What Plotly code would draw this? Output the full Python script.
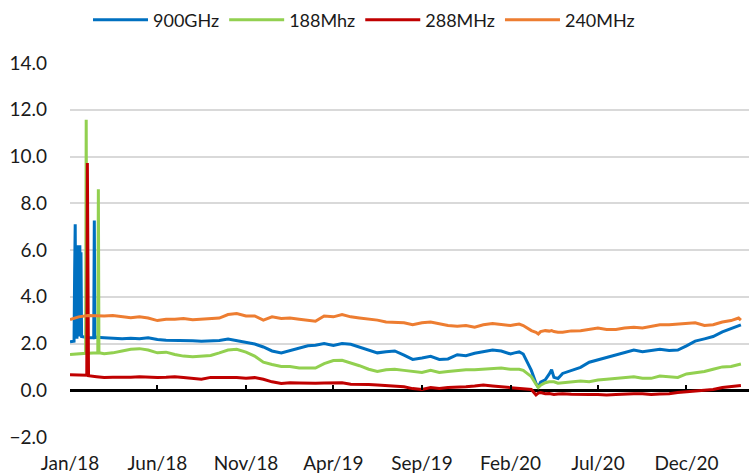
import pandas as pd
import plotly.graph_objects as go

# base dates (semi-monthly, weekly around Mar 2020)
dates = [
    "2018-01-01", "2018-01-16", "2018-02-01", "2018-02-16", "2018-03-01", "2018-03-16",
    "2018-04-01", "2018-04-16", "2018-05-01", "2018-05-16", "2018-06-01", "2018-06-16",
    "2018-07-01", "2018-07-16", "2018-08-01", "2018-08-16", "2018-09-01", "2018-09-16",
    "2018-10-01", "2018-10-16", "2018-11-01", "2018-11-16", "2018-12-01", "2018-12-16",
    "2019-01-01", "2019-01-16", "2019-02-01", "2019-02-16", "2019-03-01", "2019-03-16",
    "2019-04-01", "2019-04-16", "2019-05-01", "2019-05-16", "2019-06-01", "2019-06-16",
    "2019-07-01", "2019-07-16", "2019-08-01", "2019-08-16", "2019-09-01", "2019-09-16",
    "2019-10-01", "2019-10-16", "2019-11-01", "2019-11-16", "2019-12-01", "2019-12-16",
    "2020-01-01", "2020-01-16", "2020-02-01", "2020-02-08", "2020-02-16", "2020-02-23",
    "2020-03-01", "2020-03-08", "2020-03-16", "2020-03-20", "2020-03-24", "2020-04-01",
    "2020-04-08", "2020-04-12", "2020-04-16", "2020-04-23", "2020-05-01", "2020-05-16",
    "2020-06-01", "2020-06-16", "2020-07-01", "2020-07-16", "2020-08-01", "2020-08-16",
    "2020-09-01", "2020-09-16", "2020-10-01", "2020-10-16", "2020-11-01", "2020-11-16",
    "2020-12-01", "2020-12-16", "2021-01-01", "2021-01-16", "2021-02-01", "2021-02-16",
    "2021-03-01", "2021-03-05",
]

ghz900 = [
    2.07, 2.20, 2.25, 2.27, 2.25, 2.22, 2.20, 2.22, 2.20, 2.25, 2.17, 2.14,
    2.14, 2.12, 2.12, 2.10, 2.10, 2.13, 2.19, 2.12, 2.04, 1.98, 1.85, 1.68,
    1.60, 1.70, 1.82, 1.90, 1.93, 2.00, 1.92, 2.00, 1.97, 1.85, 1.72, 1.60,
    1.65, 1.68, 1.50, 1.32, 1.38, 1.45, 1.32, 1.34, 1.52, 1.48, 1.58, 1.66,
    1.72, 1.68, 1.55, 1.60, 1.64, 1.55, 1.20, 0.85, 0.30, 0.12, 0.35, 0.45,
    0.70, 0.88, 0.55, 0.50, 0.72, 0.85, 0.98, 1.20, 1.30, 1.40, 1.52, 1.60,
    1.72, 1.65, 1.70, 1.75, 1.70, 1.72, 1.90, 2.10, 2.20, 2.30, 2.50, 2.65,
    2.78, 2.80,
]
mhz188 = [
    1.53, 1.55, 1.58, 1.60, 1.56, 1.60, 1.68, 1.75, 1.78, 1.72, 1.60, 1.63,
    1.53, 1.46, 1.43, 1.46, 1.49, 1.60, 1.72, 1.75, 1.63, 1.46, 1.20, 1.10,
    1.02, 1.02, 0.95, 0.95, 0.95, 1.14, 1.27, 1.28, 1.17, 1.05, 0.90, 0.80,
    0.88, 0.90, 0.85, 0.80, 0.76, 0.85, 0.76, 0.80, 0.85, 0.88, 0.88, 0.90,
    0.95, 0.95, 0.90, 0.90, 0.90, 0.85, 0.73, 0.58, 0.26, 0.12, 0.22, 0.32,
    0.36, 0.35, 0.36, 0.30, 0.32, 0.36, 0.40, 0.36, 0.44, 0.47, 0.51, 0.55,
    0.58, 0.51, 0.51, 0.61, 0.58, 0.55, 0.70, 0.76, 0.80, 0.90, 1.00, 1.02,
    1.10, 1.12,
]
mhz288 = [
    0.66, 0.64, 0.62, 0.58, 0.55, 0.56, 0.55, 0.56, 0.58, 0.55, 0.55, 0.56,
    0.58, 0.55, 0.52, 0.47, 0.55, 0.55, 0.54, 0.55, 0.51, 0.54, 0.47, 0.36,
    0.29, 0.32, 0.31, 0.29, 0.30, 0.31, 0.32, 0.32, 0.26, 0.27, 0.25, 0.22,
    0.19, 0.18, 0.15, 0.07, 0.03, 0.12, 0.07, 0.12, 0.12, 0.15, 0.18, 0.22,
    0.18, 0.15, 0.12, 0.10, 0.07, 0.08, 0.06, 0.03, -0.20, -0.12, -0.10, -0.15,
    -0.14, -0.17, -0.18, -0.16, -0.15, -0.17, -0.19, -0.18, -0.18, -0.20, -0.18, -0.15,
    -0.15, -0.15, -0.18, -0.16, -0.15, -0.10, -0.07, -0.03, -0.03, 0.03, 0.12, 0.15,
    0.18, 0.20,
]
mhz240 = [
    3.02, 3.14, 3.20, 3.18, 3.18, 3.20, 3.14, 3.10, 3.14, 3.09, 2.98, 3.04,
    3.04, 3.07, 3.02, 3.04, 3.04, 3.09, 3.24, 3.28, 3.18, 3.18, 3.00, 3.14,
    3.07, 3.09, 3.04, 3.00, 2.95, 3.18, 3.14, 3.24, 3.14, 3.09, 3.04, 3.00,
    2.92, 2.92, 2.89, 2.80, 2.89, 2.92, 2.85, 2.77, 2.74, 2.77, 2.70, 2.80,
    2.85, 2.80, 2.77, 2.80, 2.83, 2.77, 2.66, 2.55, 2.48, 2.41, 2.51, 2.55,
    2.53, 2.55, 2.51, 2.48, 2.48, 2.54, 2.55, 2.60, 2.66, 2.60, 2.60, 2.66,
    2.70, 2.66, 2.74, 2.80, 2.80, 2.83, 2.85, 2.89, 2.77, 2.80, 2.92, 2.98,
    3.09, 3.00,
]

# daily spikes early 2018
spike_dates_900 = ["2018-01-08", "2018-01-09", "2018-01-10", "2018-01-11", "2018-01-12",
                   "2018-01-13", "2018-01-14", "2018-01-15", "2018-01-16", "2018-01-17",
                   "2018-01-18", "2018-01-19", "2018-01-20", "2018-01-21",
                   "2018-02-11", "2018-02-12", "2018-02-13"]
spike_vals_900 = [2.10, 5.00, 7.10, 2.30, 4.00, 2.20, 6.20, 2.30, 6.10, 2.30,
                  6.20, 2.30, 5.90, 2.30, 2.25, 7.26, 2.25]
spike_dates_188 = ["2018-01-28", "2018-01-29", "2018-01-30",
                   "2018-02-18", "2018-02-19", "2018-02-20"]
spike_vals_188 = [1.58, 11.57, 1.58, 1.60, 8.60, 1.60]
spike_dates_288 = ["2018-01-30", "2018-01-31", "2018-02-02"]
spike_vals_288 = [0.64, 9.72, 0.62]

tick_dates = ["2018-01-01", "2018-06-01", "2018-11-01", "2019-04-01",
              "2019-09-01", "2020-02-01", "2020-07-01", "2020-12-01"]
tick_text = ["Jan/18", "Jun/18", "Nov/18", "Apr/19", "Sep/19", "Feb/20", "Jul/20", "Dec/20"]


def merged(vals, sp_dates=None, sp_vals=None):
    s = pd.Series(vals, index=pd.to_datetime(dates))
    if sp_dates:
        s = pd.concat([s, pd.Series(sp_vals, index=pd.to_datetime(sp_dates))])
        s = s[~s.index.duplicated(keep="last")]
    return s.sort_index()


series = [
    ("900GHz", merged(ghz900, spike_dates_900, spike_vals_900), "#0070C0"),
    ("188Mhz", merged(mhz188, spike_dates_188, spike_vals_188), "#92D050"),
    ("288MHz", merged(mhz288, spike_dates_288, spike_vals_288), "#C00000"),
    ("240MHz", merged(mhz240), "#ED7D31"),
]

font = "Lato, 'Open Sans', sans-serif"
fig = go.Figure()
for name, s, color in series:
    fig.add_trace(go.Scatter(x=s.index, y=s.values, name=name, mode="lines",
                             line=dict(color=color, width=3)))

# helper trace so the tick axis at y=0 gets drawn
fig.add_trace(go.Scatter(x=[tick_dates[0]], y=[None], xaxis="x2", showlegend=False,
                         hoverinfo="skip"))

xr = ["2018-01-01", "2021-03-19"]
fig.update_layout(
    width=749, height=476,
    margin=dict(l=70, r=0, t=63, b=39, autoexpand=False),
    plot_bgcolor="white", paper_bgcolor="white",
    font=dict(family=font, size=19, color="#1a1a1a"),
    showlegend=True,
    legend=dict(orientation="h", xref="container", yref="container",
                x=0.1175, xanchor="left", y=0.958, yanchor="middle",
                itemwidth=55, font=dict(size=18), bgcolor="rgba(0,0,0,0)"),
    xaxis=dict(type="date", range=xr, tickvals=tick_dates, ticktext=tick_text,
               showgrid=False, showline=False, zeroline=False, ticks="",
               ticklabelstandoff=13),
    xaxis2=dict(type="date", range=xr, overlaying="x", matches="x", anchor="free",
                position=0.125, tickvals=tick_dates, ticks="inside", ticklen=5,
                tickwidth=1.5, tickcolor="black", showticklabels=False,
                showgrid=False, showline=False, zeroline=False),
    yaxis=dict(range=[-2, 14], dtick=2, tickformat=".1f", showgrid=True,
               gridcolor="#D9D9D9", gridwidth=1.5, zeroline=True,
               zerolinecolor="black", zerolinewidth=2.5, showline=False,
               ticks="", ticklabelstandoff=22),
)

# drop the default page margin so the figure sits at the window's corner
fig.write_html("out.html", config={"displayModeBar": False},
               post_script="document.body.style.margin='0';")
